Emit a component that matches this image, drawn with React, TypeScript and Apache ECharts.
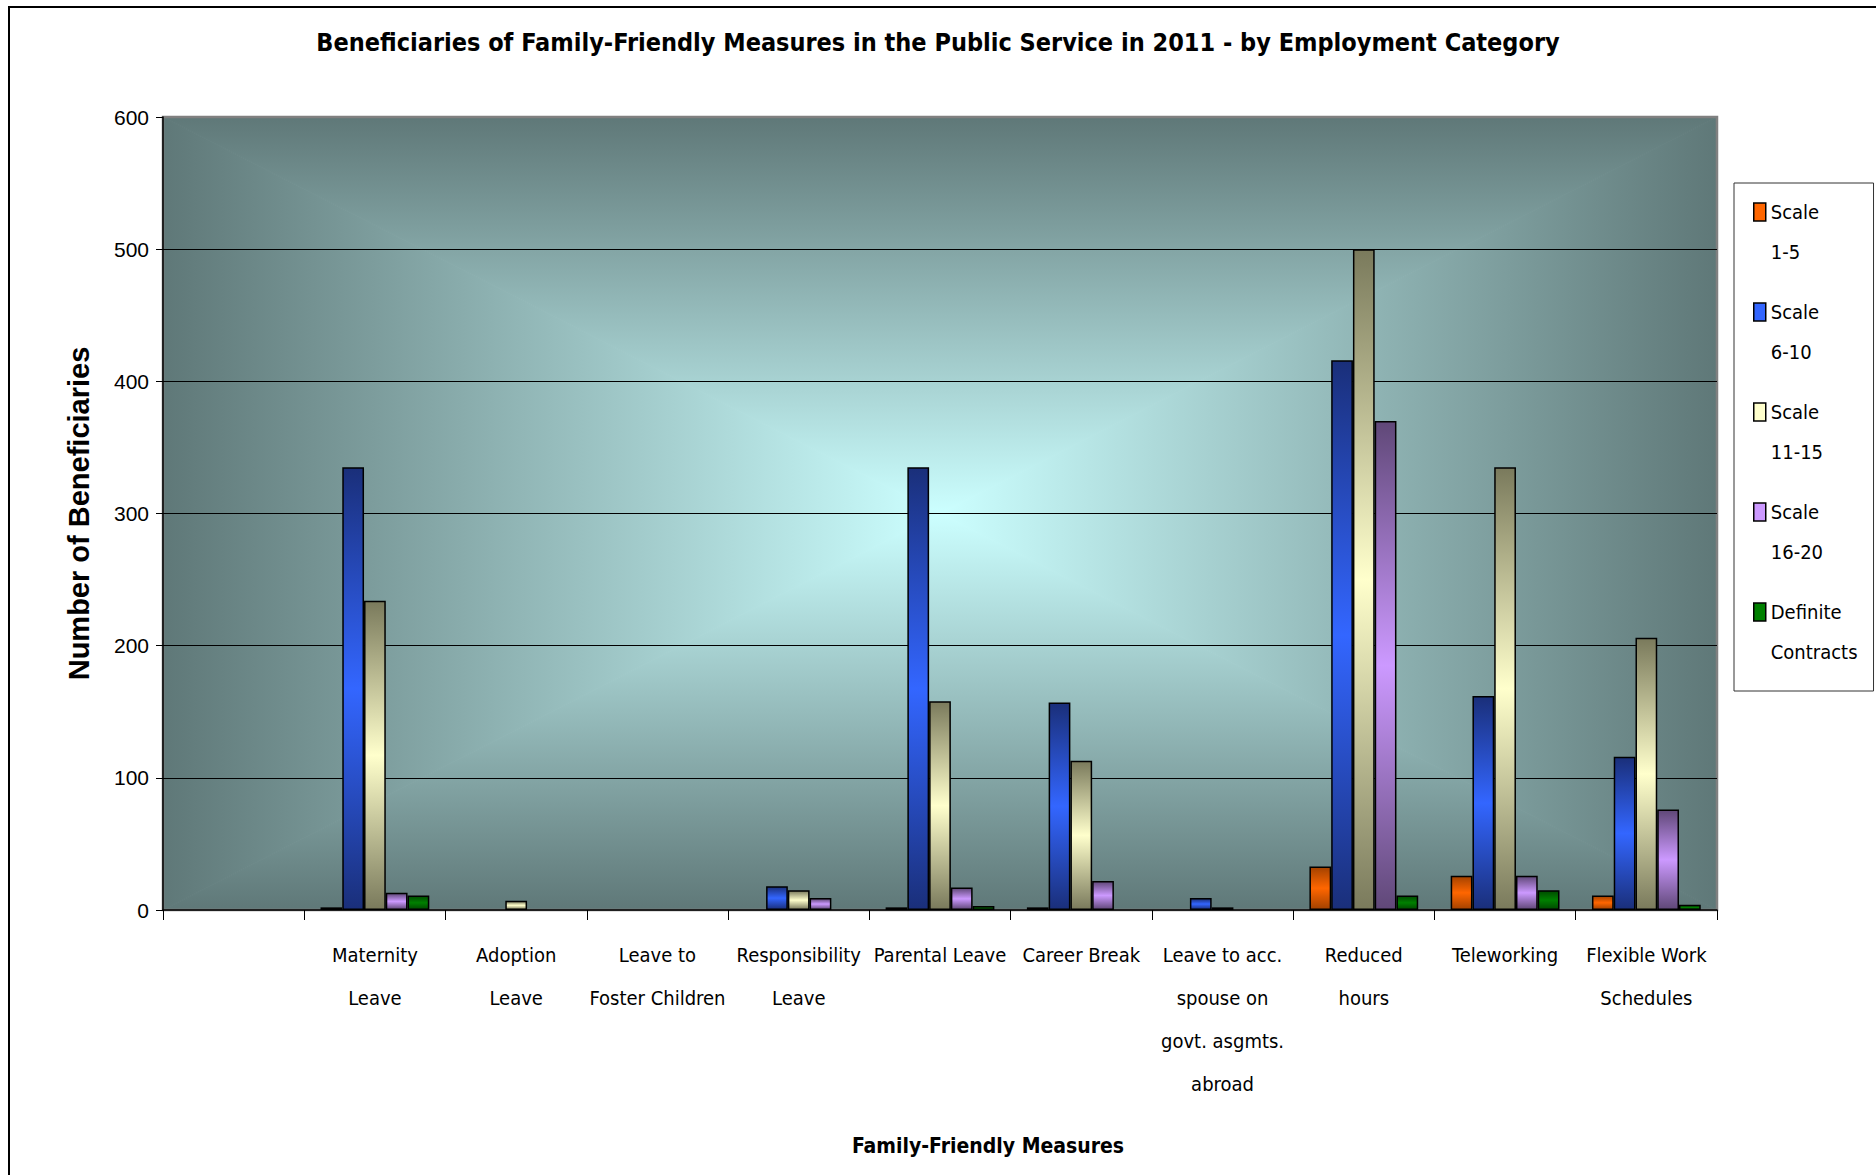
import React, { useEffect, useRef } from "react";
import * as echarts from "echarts";

const categories = [
  "",
  "Maternity\nLeave",
  "Adoption\nLeave",
  "Leave to\nFoster Children",
  "Responsibility\nLeave",
  "Parental Leave",
  "Career Break",
  "Leave to acc.\nspouse on\ngovt. asgmts.\nabroad",
  "Reduced\nhours",
  "Teleworking",
  "Flexible Work\nSchedules",
];
const seriesNames = ["Scale\n1-5", "Scale\n6-10", "Scale\n11-15", "Scale\n16-20", "Definite\nContracts"];
const scale1to5 = [0, 2, 0, 0, 0, 2, 2, 0, 33, 26, 11];
const scale6to10 = [0, 335, 0, 0, 18, 335, 157, 9, 416, 162, 116];
const scale11to15 = [0, 234, 7, 0, 15, 158, 113, 2, 500, 335, 206];
const scale16to20 = [0, 13, 0, 0, 9, 17, 22, 0, 370, 26, 76];
const definiteContracts = [0, 11, 0, 0, 0, 3, 0, 0, 11, 15, 4];
const yMin = 0;
const yMax = 600;
const yStep = 100;

const darkCols = ["#A34200", "#1A2F7A", "#7A7A5C", "#604878", "#004A00"];
const brightCols = ["#FF6600", "#3366FF", "#FFFFCC", "#CC99FF", "#008000"];

const NARROW = "'Liberation Sans Narrow', 'Arial Narrow', 'DejaVu Sans Condensed', sans-serif";
const REG = "'Liberation Sans', Arial, sans-serif";

export default function App() {
  const ref = useRef<HTMLDivElement>(null);
  useEffect(() => {
    const chart = echarts.init(ref.current!, null, { renderer: "svg" });
    const W = 1876, H = 1175;
    const L = 163, R = 1717, T = 117, B = 910;
    const cx = (L + R) / 2, cy = (T + B) / 2;
    const dark = "#5F7878", light = "#CCFFFF";
    const grad = (x: number, y: number, x2: number, y2: number) =>
      new echarts.graphic.LinearGradient(x, y, x2, y2, [
        { offset: 0, color: dark },
        { offset: 1, color: light },
      ], true);
    const tri = (pts: number[][], g: any) => ({
      type: "polygon",
      shape: { points: pts },
      style: { fill: g, stroke: g, lineWidth: 1 },
      z: -10,
      silent: true,
    });
    const seriesData = [scale1to5, scale6to10, scale11to15, scale16to20, definiteContracts];
    chart.setOption({
      animation: false,
      backgroundColor: "#fff",
      title: {
        text: "Beneficiaries of Family-Friendly Measures in the Public Service in 2011 - by Employment Category",
        left: "center",
        top: 25,
        textStyle: { fontFamily: NARROW, fontWeight: "bold", fontSize: 25, color: "#000" },
      },
      graphic: {
        elements: [
          tri([[L, T], [R, T], [cx, cy]], grad(0, T, 0, cy)),
          tri([[L, B], [R, B], [cx, cy]], grad(0, B, 0, cy)),
          tri([[L, T], [L, B], [cx, cy]], grad(L, 0, cx, 0)),
          tri([[R, T], [R, B], [cx, cy]], grad(R, 0, cx, 0)),
          {
            type: "rect",
            shape: { x: 9, y: 7, width: W + 50, height: H + 50 },
            style: { fill: "none", stroke: "#000", lineWidth: 2 },
            z: -5,
            silent: true,
          },
        ],
      },
      grid: {
        left: L,
        right: W - R,
        top: T,
        bottom: H - B,
        show: true,
        backgroundColor: "transparent",
        borderColor: "#808080",
        borderWidth: 2.5,
      },
      legend: {
        orient: "vertical",
        left: 1734,
        top: 183,
        padding: [9, 16, 19, 19],
        itemGap: 20,
        itemWidth: 12,
        itemHeight: 58,
        icon: "path://M0,0L12,0L12,18L0,18Z M0,58L0.01,58",
        backgroundColor: "#fff",
        borderColor: "#333",
        borderWidth: 1,
        itemStyle: { borderColor: "#000", borderWidth: 1.5 },
        textStyle: { fontFamily: NARROW, fontSize: 20, lineHeight: 40, color: "#000" },
        data: seriesNames.map((n, i) => ({ name: n, itemStyle: { color: brightCols[i] } })),
      },
      xAxis: {
        type: "category",
        data: categories,
        axisLine: { lineStyle: { color: "#000", width: 1.5 } },
        axisTick: { show: true, alignWithLabel: false, length: 10, lineStyle: { color: "#000" } },
        axisLabel: { interval: 0, color: "#000", fontFamily: NARROW, fontSize: 20, lineHeight: 43, margin: 23 },
        splitLine: { show: false },
        name: "Family-Friendly Measures",
        nameLocation: "middle",
        nameGap: 225,
        nameTextStyle: { fontFamily: NARROW, fontWeight: "bold", fontSize: 21, color: "#000", padding: [0, 0, 0, 96] },
      },
      yAxis: {
        type: "value",
        min: yMin,
        max: yMax,
        interval: yStep,
        axisLine: { show: true, lineStyle: { color: "#000", width: 1.5 } },
        axisTick: { show: true, length: 7, lineStyle: { color: "#000" } },
        axisLabel: { color: "#000", fontFamily: REG, fontSize: 21, margin: 14 },
        splitLine: { show: true, showMaxLine: false, showMinLine: false, lineStyle: { color: "#000", width: 1 } },
        name: "Number of Beneficiaries",
        nameLocation: "middle",
        nameRotate: 90,
        nameGap: 70,
        nameTextStyle: { fontFamily: REG, fontWeight: "bold", fontSize: 29, color: "#000" },
      },
      series: seriesNames.map((name, i) => ({
        type: "bar",
        name,
        data: seriesData[i].map((v) => (v === 0 ? null : v)),
        barGap: "0%",
        barCategoryGap: "23%",
        itemStyle: {
          color: new echarts.graphic.LinearGradient(0, 0, 0, 1, [
            { offset: 0, color: darkCols[i] },
            { offset: 0.5, color: brightCols[i] },
            { offset: 1, color: darkCols[i] },
          ]),
          borderColor: "#000",
          borderWidth: 1.5,
        },
      })),
    });
    return () => chart.dispose();
  }, []);
  return (
    <div
      ref={ref}
      style={{ position: "fixed", left: 0, top: 0, width: 1876, height: 1175, background: "#fff" }}
    />
  );
}
